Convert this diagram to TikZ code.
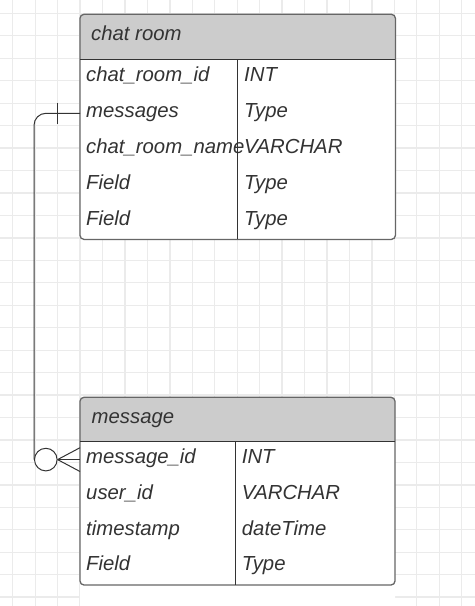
\documentclass[tikz,border=0pt]{standalone}
\usepackage{fontspec}
\setmainfont{Liberation Sans}
\begin{document}
\begin{tikzpicture}[x=1bp,y=-1bp,
  gridline/.style={draw=gridc, line width=1.3bp},
  outer/.style={draw=borderc, line width=1.3bp, rounded corners=4bp},
  inner/.style={draw=innerc, line width=1bp},
  boxfill/.style={fill=white, rounded corners=4bp, inner sep=0pt, anchor=north west},
  txt/.style={anchor=base west, inner sep=0pt, text=textc, font=\fontsize{20.4}{24}\selectfont\itshape},
  conn/.style={draw=connc, line width=1bp}]
\definecolor{gridc}{HTML}{EBEBEB}
\definecolor{borderc}{HTML}{666666}
\definecolor{innerc}{HTML}{333333}
\definecolor{hdrc}{HTML}{CCCCCC}
\definecolor{textc}{HTML}{333333}
\definecolor{connc}{HTML}{333333}
\useasboundingbox (0,0) rectangle (475,606);
\fill[white] (0,0) rectangle (475,606);
% grid
\foreach \i in {0,...,20} \draw[gridline] ({12.7+22.45*\i},0) -- ({12.7+22.45*\i},606);
\foreach \j in {0,...,26} \draw[gridline] (0,{13.4+22.45*\j}) -- (475,{13.4+22.45*\j});

% ---------- chat room table ----------
\node[boxfill, minimum width=315bp, minimum height=224.7bp] (room) at (80,14.3) {};
\begin{scope}
  \clip (80,14.3) rectangle (395,59.3);
  \fill[hdrc, rounded corners=4bp] (80,14.3) rectangle (395,239);
\end{scope}
\draw[outer] (room.north west) rectangle (room.south east);
\draw[inner] (80,59.3) -- (395,59.3);
\draw[inner] (237.3,59.3) -- (237.3,239);
\node[txt] (roomh) at (91,41) {chat room};
\node[txt] (r1a) at (86,81.3) {chat\_room\_id};
\node[txt] (r1b) at (244,81.3) {INT};
\node[txt] (r2a) at (86,117.3) {messages};
\node[txt] (r2b) at (244,117.3) {Type};
\node[txt] (r3a) at (86,153.3) {chat\_room\_name};
\node[txt] (r3b) at (244,153.3) {VARCHAR};
\node[txt] (r4a) at (86,189.3) {Field};
\node[txt] (r4b) at (244,189.3) {Type};
\node[txt] (r5a) at (86,225.3) {Field};
\node[txt] (r5b) at (244,225.3) {Type};

% ---------- message table ----------
\node[boxfill, minimum width=315bp, minimum height=287.7bp] (msg) at (80,397.3) {};
\begin{scope}
  \clip (80,397.3) rectangle (395,441.7);
  \fill[hdrc, rounded corners=4bp] (80,397.3) rectangle (395,585);
\end{scope}
\draw[outer] (80,397.3) rectangle (395,585);
\draw[inner] (80,441.7) -- (395,441.7);
\draw[inner] (235.7,441.7) -- (235.7,585);
\node[txt] (msgh) at (91.5,423.5) {message};
\node[txt] (m1a) at (86,463.4) {message\_id};
\node[txt] (m1b) at (241.7,463.4) {INT};
\node[txt] (m2a) at (86,499.2) {user\_id};
\node[txt] (m2b) at (241.7,499.2) {VARCHAR};
\node[txt] (m3a) at (86,535) {timestamp};
\node[txt] (m3b) at (241.7,535) {dateTime};
\node[txt] (m4a) at (86,570.8) {Field};
\node[txt] (m4b) at (241.7,570.8) {Type};

% ---------- relationship ----------
\coordinate (p1) at (80,113.3);
\coordinate (q1) at (80,447.7);
\coordinate (q2) at (80,459.6);
\coordinate (q3) at (80,471.5);
\node[circle, draw=connc, line width=1bp, fill=white, inner sep=0pt, minimum size=22.6bp] (circ) at (45.8,459.6) {};
\draw[conn, rounded corners=12bp] (p1) -| (circ.west);
\draw[conn] (57.3,103) -- (57.3,124);
\draw[conn] (circ.east) -- (q1);
\draw[conn] (circ.east) -- (q2);
\draw[conn] (circ.east) -- (q3);
\end{tikzpicture}
\end{document}
